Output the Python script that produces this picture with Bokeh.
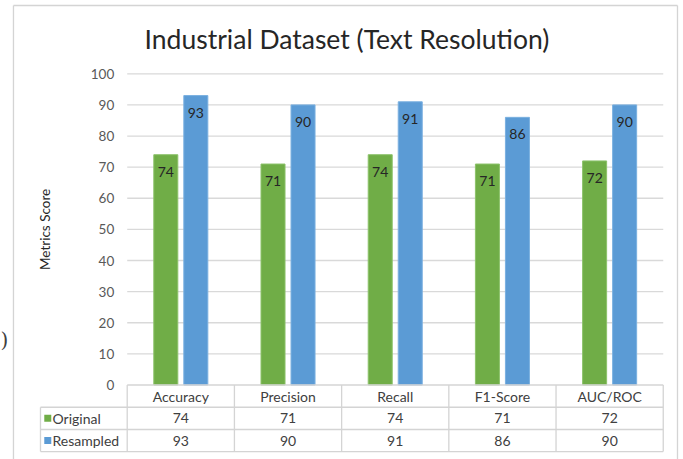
from bokeh.plotting import figure
from bokeh.models import Range1d, ColumnDataSource
from bokeh.core.properties import value
from bokeh.embed import file_html
from bokeh.resources import INLINE
import math

# ---- data ----
categories = ["Accuracy", "Precision", "Recall", "F1-Score", "AUC/ROC"]
original = [74, 71, 74, 71, 72]
resampled = [93, 90, 91, 86, 90]
series_names = ["Original", "Resampled"]
y_ticks = [0, 10, 20, 30, 40, 50, 60, 70, 80, 90, 100]
title_text = "Industrial Dataset (Text Resolution)"
y_label = "Metrics Score"

GREEN = "#70AD47"
BLUE = "#5B9BD5"
GRID = "#d9d9d9"
BORDER = "#d4d4d4"
TXT = "#404040"
FONT = value("Lato")

# layout constants (data units)
X0, X1 = -1.682, 4.689
Y0, Y1 = -23.94, 123.55
ROW_H = 7.15
TABLE_LEFT = -1.309
BAR_W = 0.224
BAR_OFF = 0.14

p = figure(width=683, height=459, output_backend="svg", toolbar_location=None,
           x_range=Range1d(X0, X1), y_range=Range1d(Y0, Y1),
           x_axis_location=None, y_axis_location=None,
           min_border=0, min_border_left=0, min_border_right=0,
           min_border_top=0, min_border_bottom=0)
p.grid.visible = False
p.outline_line_color = None
p.background_fill_color = "white"
p.border_fill_color = "white"

n = len(categories)
xs = list(range(n))

# gridlines
grid_src = ColumnDataSource(dict(y=y_ticks[1:], x0=[-0.5] * (len(y_ticks) - 1), x1=[n - 0.5] * (len(y_ticks) - 1)))
p.segment(x0="x0", x1="x1", y0="y", y1="y", source=grid_src, line_color=GRID, line_width=1.3)

# tick labels
p.text(x=[-0.5] * len(y_ticks), y=y_ticks, text=[str(t) for t in y_ticks],
       text_align="right", text_baseline="middle", x_offset=-13,
       text_font=FONT, text_font_size="13.5px", text_color="#595959")

# bars
p.vbar(x=[x - BAR_OFF for x in xs], top=original, bottom=0, width=BAR_W,
       fill_color=GREEN, line_color="#8cc26a", line_width=1)
p.vbar(x=[x + BAR_OFF for x in xs], top=resampled, bottom=0, width=BAR_W,
       fill_color=BLUE, line_color="#7ab0e0", line_width=1)

# data labels
p.text(x=[x - BAR_OFF for x in xs], y=original, text=[str(v) for v in original],
       text_align="center", text_baseline="middle", y_offset=17,
       text_font=FONT, text_font_size="14px", text_color="#262626")
p.text(x=[x + BAR_OFF for x in xs], y=resampled, text=[str(v) for v in resampled],
       text_align="center", text_baseline="middle", y_offset=17,
       text_font=FONT, text_font_size="14px", text_color="#262626")

# table lines
r1, r2, r3 = -ROW_H, -2 * ROW_H, -3 * ROW_H + 0.05
hx0 = [-0.5, TABLE_LEFT, TABLE_LEFT, TABLE_LEFT]
hx1 = [n - 0.5] * 4
hy = [0, r1, r2, r3]
p.segment(x0=hx0, x1=hx1, y0=hy, y1=hy, line_color=BORDER, line_width=1.3)
vx = [x - 0.5 for x in range(n + 1)] + [TABLE_LEFT]
vy0 = [0] * (n + 1) + [r1]
vy1 = [r3] * (n + 2)
p.segment(x0=vx, x1=vx, y0=vy0, y1=vy1, line_color=BORDER, line_width=1.3)

# header row
p.text(x=xs, y=[r1 / 2] * n, text=categories, text_align="center", text_baseline="middle",
       text_font=FONT, text_font_size="14px", text_color=TXT)
# value rows
p.text(x=xs, y=[(r1 + r2) / 2] * n, text=[str(v) for v in original], text_align="center",
       text_baseline="middle", text_font=FONT, text_font_size="14px", text_color=TXT)
p.text(x=xs, y=[(r2 + r3) / 2] * n, text=[str(v) for v in resampled], text_align="center",
       text_baseline="middle", text_font=FONT, text_font_size="14px", text_color=TXT)

# legend keys & labels in table
p.scatter(x=[TABLE_LEFT + 0.068] * 2, y=[(r1 + r2) / 2, (r2 + r3) / 2], marker="square", size=7,
          fill_color=[GREEN, BLUE], line_color=None)
p.text(x=[TABLE_LEFT] * 2, y=[(r1 + r2) / 2, (r2 + r3) / 2], text=series_names,
       text_align="left", text_baseline="middle", x_offset=12,
       text_font=FONT, text_font_size="14px", text_color=TXT)

# y-axis label
p.text(x=[TABLE_LEFT], y=[50], text=[y_label], angle=math.pi / 2,
       text_align="center", text_baseline="middle", x_offset=5,
       text_font=FONT, text_font_size="13.5px", text_color="#262626")

# title
p.text(x=[(n - 1) / 2 - 0.45], y=[111.3], text=[title_text], text_align="center",
       text_baseline="middle", text_font=FONT, text_font_size="26.5px", text_color="#262626")

# chart frame border (left, top, right)
FL, FT, FR = -1.561, 121.95, 4.633
p.segment(x0=[FL, FL, FR], x1=[FL, FR, FR], y0=[Y0, FT, FT], y1=[FT, FT, Y0],
          line_color=BORDER, line_width=1.3)

# stray bracket at the left edge of the picture
p.text(x=[X0], y=[14.3], text=[")"], text_align="left", text_baseline="middle",
       text_font=value("DejaVu Serif"), text_font_size="20px", text_color="#404040")

open("out.html", "w").write(file_html(p, INLINE))
